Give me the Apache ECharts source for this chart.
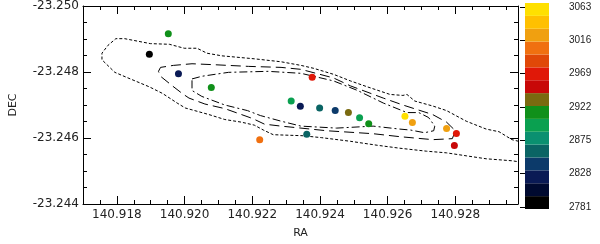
<!DOCTYPE html>
<html><head><meta charset="utf-8">
<script src="https://cdn.jsdelivr.net/npm/echarts@6/dist/echarts.min.js"></script>
<style>html,body{margin:0;padding:0;background:#fff}#c{width:600px;height:244px}</style>
</head><body><div id="c"></div>
<script>
// ---- data ----
const pointRA  = [140.91952,140.91896,140.91982,140.92079,140.92315,140.92342,140.92377,140.92399,140.92361,140.92445,140.92484,140.92517,140.92544,140.92222,140.92651,140.92673,140.92774,140.92803,140.92797];
const pointDEC = [-23.24916,-23.24854,-23.24795,-23.24753,-23.24712,-23.24696,-23.24784,-23.24691,-23.24611,-23.24683,-23.24677,-23.24661,-23.24643,-23.24595,-23.24666,-23.24647,-23.24629,-23.24614,-23.24577];
const pointVel = [2912,2790,2822,2910,2895,2824,2962,2860,2858,2842,2930,2890,2915,3000,3058,3018,3020,2965,2955];

const contour1 = [[140.92987,-23.24590],[140.92967,-23.24595],[140.92929,-23.24619],[140.92891,-23.24627],[140.92832,-23.24651],[140.92774,-23.24683],[140.92733,-23.24697],[140.92680,-23.24712],[140.92657,-23.24732],[140.92645,-23.24729],[140.92607,-23.24732],[140.92540,-23.24755],[140.92490,-23.24773],[140.92440,-23.24793],[140.92382,-23.24811],[140.92344,-23.24820],[140.92285,-23.24831],[140.92206,-23.24840],[140.92110,-23.24849],[140.92066,-23.24857],[140.92037,-23.24872],[140.91999,-23.24872],[140.91955,-23.24884],[140.91899,-23.24886],[140.91823,-23.24901],[140.91797,-23.24901],[140.91774,-23.24881],[140.91756,-23.24857],[140.91756,-23.24837],[140.91794,-23.24799],[140.91826,-23.24785],[140.91896,-23.24755],[140.91935,-23.24735],[140.91978,-23.24706],[140.92002,-23.24691],[140.92072,-23.24671],[140.92119,-23.24656],[140.92168,-23.24648],[140.92206,-23.24639],[140.92233,-23.24624],[140.92262,-23.24610],[140.92347,-23.24607],[140.92405,-23.24601],[140.92490,-23.24590],[140.92569,-23.24578],[140.92636,-23.24569],[140.92715,-23.24560],[140.92774,-23.24555],[140.92832,-23.24546],[140.92891,-23.24537],[140.92967,-23.24531],[140.92987,-23.24528]];
const contour2 = [[140.91923,-23.24802],[140.91929,-23.24814],[140.91967,-23.24820],[140.92022,-23.24825],[140.92089,-23.24822],[140.92189,-23.24817],[140.92285,-23.24814],[140.92344,-23.24808],[140.92440,-23.24782],[140.92490,-23.24758],[140.92587,-23.24721],[140.92645,-23.24700],[140.92733,-23.24671],[140.92774,-23.24648],[140.92800,-23.24622],[140.92791,-23.24598],[140.92733,-23.24595],[140.92636,-23.24604],[140.92557,-23.24613],[140.92420,-23.24622],[140.92344,-23.24630],[140.92285,-23.24636],[140.92236,-23.24642],[140.92201,-23.24659],[140.92119,-23.24689],[140.92060,-23.24703],[140.92013,-23.24721],[140.91993,-23.24735],[140.91964,-23.24758],[140.91929,-23.24787],[140.91923,-23.24802]];
const contour3 = [[140.92022,-23.24779],[140.92051,-23.24787],[140.92130,-23.24799],[140.92247,-23.24802],[140.92344,-23.24796],[140.92440,-23.24773],[140.92511,-23.24744],[140.92587,-23.24706],[140.92657,-23.24677],[140.92692,-23.24677],[140.92721,-23.24662],[140.92739,-23.24636],[140.92736,-23.24622],[140.92709,-23.24616],[140.92668,-23.24624],[140.92636,-23.24627],[140.92557,-23.24636],[140.92449,-23.24630],[140.92344,-23.24636],[140.92285,-23.24651],[140.92224,-23.24668],[140.92186,-23.24683],[140.92119,-23.24700],[140.92051,-23.24726],[140.92022,-23.24744],[140.92022,-23.24779]];

const cbarColors = ['#000000','#000a30','#0a1a55','#0c3a6a','#0a6464','#0a9070','#0aa050','#10901a','#7a6a10','#c80808','#e01808','#e04808','#f07010','#f0a010','#ffc000','#ffe000'];
const cbarLabels = ['2781','2828','2875','2922','2969','3016','3063'];
const cbarMin = 2781, cbarMax = 3063;
const xTicks = [140.918, 140.920, 140.922, 140.924, 140.926, 140.928];
const yTicks = [-23.250, -23.248, -23.246, -23.244];
const xRange = [140.917, 140.92985];
const yRange = [-23.250, -23.244];

// ---- chart ----
const chart = echarts.init(document.getElementById('c'), null, {renderer: 'canvas'});
const font = 'DejaVu Sans';
const txt = '#222';
const bandW = (cbarMax - cbarMin) / cbarColors.length;
const grid0 = {left: 79, top: 4, width: 439, height: 206};

function xAx(pos, major, labels, line) {
  const a = {type: 'value', gridIndex: 0, position: pos, min: xRange[0], max: xRange[1],
    axisLine: {show: line, onZero: false, lineStyle: {color: '#000', width: 1}},
    axisTick: {show: true, inside: true, length: major ? 8 : 4, lineStyle: {color: '#000', width: 1}},
    axisLabel: {show: labels, color: txt, fontFamily: font, fontSize: 12, margin: 5,
      formatter: v => v.toFixed(3)},
    splitLine: {show: false}};
  if (major) { a.axisTick.customValues = xTicks; a.axisLabel.customValues = xTicks; a.interval = 0.001; }
  else { a.interval = 0.0005; }
  return a;
}
function yAx(pos, major, labels, line) {
  const a = {type: 'value', gridIndex: 0, position: pos, min: yRange[0], max: yRange[1], inverse: true,
    axisLine: {show: line, onZero: false, lineStyle: {color: '#000', width: 1}},
    axisTick: {show: true, inside: true, length: major ? 8 : 4, lineStyle: {color: '#000', width: 1}},
    axisLabel: {show: labels, color: txt, fontFamily: font, fontSize: 12, margin: 4,
      formatter: v => v.toFixed(3)},
    splitLine: {show: false}};
  if (major) { a.axisTick.customValues = yTicks; a.axisLabel.customValues = yTicks; a.interval = 0.002; }
  else { a.interval = 0.0005; }
  return a;
}

const xAxes = [
  Object.assign(xAx('bottom', true, true, true), {name: 'RA', nameLocation: 'middle', nameGap: 24,
    nameTextStyle: {color: txt, fontFamily: font, fontSize: 11}}),
  xAx('bottom', false, false, false),
  xAx('top', true, false, true),
  xAx('top', false, false, false),
  {type: 'value', gridIndex: 1, min: 0, max: 1, show: false},
  {type: 'value', gridIndex: 2, min: 0, max: 1, show: false}
];
const yAxes = [
  Object.assign(yAx('left', true, true, true), {name: 'DEC', nameLocation: 'middle', nameGap: 64, nameRotate: 90,
    nameTextStyle: {color: txt, fontFamily: font, fontSize: 11}}),
  yAx('left', false, false, false),
  yAx('right', true, false, true),
  yAx('right', false, false, false),
  {type: 'category', gridIndex: 1, data: cbarColors.map((c, i) => 'b' + i), show: false, boundaryGap: true},
  {type: 'category', gridIndex: 2, position: 'right', data: cbarLabels, boundaryGap: false,
    axisLine: {show: false},
    axisTick: {show: true, inside: true, length: 5, lineStyle: {color: '#000'}},
    axisLabel: {show: true, color: txt, fontFamily: 'Liberation Sans', fontSize: 10, margin: 20, align: 'left'},
    splitLine: {show: false}}
];

const lineStyles = [[3, 2], [10, 5], [8, 3, 2, 3]];
const contours = [contour1, contour2, contour3];

const series = contours.map((c, i) => ({
  type: 'line', xAxisIndex: 0, yAxisIndex: 0, data: c, showSymbol: false, symbol: 'none', silent: true,
  lineStyle: {color: '#000', width: 1, type: lineStyles[i]}, z: 2, clip: true
}));
series.push({
  type: 'scatter', xAxisIndex: 0, yAxisIndex: 0, symbol: 'circle', symbolSize: 7, z: 5,
  itemStyle: {opacity: 1},
  data: pointRA.map((r, i) => [r, pointDEC[i], pointVel[i]])
});
series.push({
  type: 'bar', xAxisIndex: 4, yAxisIndex: 4, barCategoryGap: '0%', silent: true,
  data: cbarColors.map(c => ({value: 1, itemStyle: {color: c}}))
});
series.push({
  type: 'line', xAxisIndex: 5, yAxisIndex: 5, data: [], showSymbol: false
});

chart.setOption({
  animation: false,
  backgroundColor: '#fff',
  grid: [grid0, {left: 525, top: 3, width: 24, height: 206}, {left: 525, top: 7, width: 24, height: 200}],
  xAxis: xAxes,
  yAxis: yAxes,
  visualMap: {type: 'piecewise', show: false, seriesIndex: 3, dimension: 2,
    pieces: cbarColors.map((c, i) => ({gte: cbarMin + i * bandW, lt: cbarMin + (i + 1) * bandW + (i === cbarColors.length - 1 ? 1 : 0), color: c}))},
  series: series
});
</script></body></html>
